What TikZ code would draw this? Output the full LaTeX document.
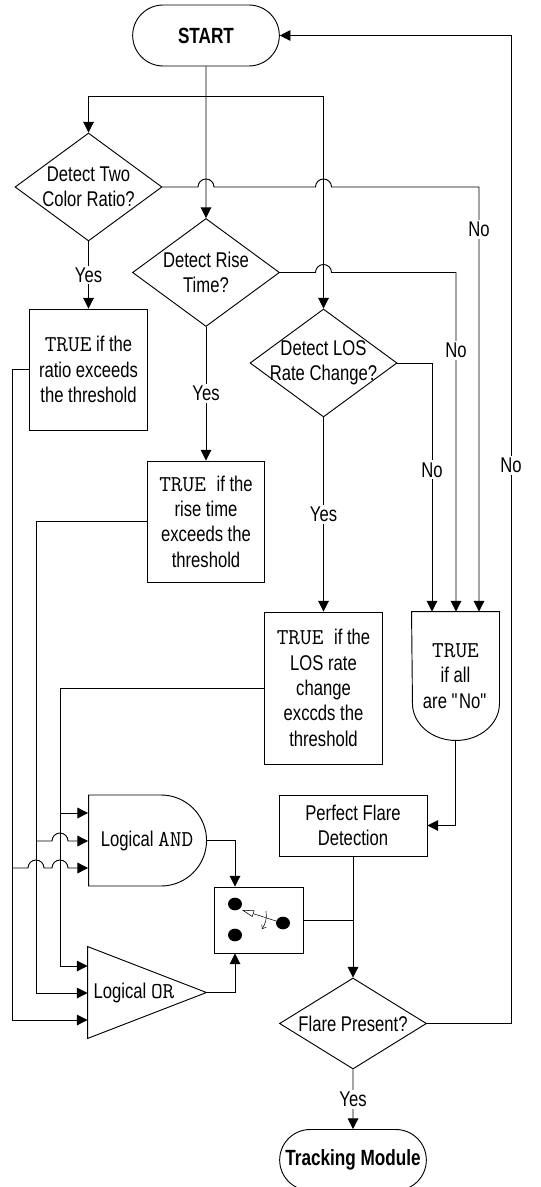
\documentclass[tikz,border=0pt]{standalone}
\usepackage{fontspec}
\setmainfont{Liberation Sans}[FakeStretch=0.78]
\usetikzlibrary{arrows.meta,shapes.geometric,shapes.misc}
\newcommand{\mono}[1]{{\fontsize{17}{19}\selectfont\ttfamily #1}}
\newcommand{\dq}{\XeTeXglyph\XeTeXcharglyph"22\relax}

\begin{document}
\begin{tikzpicture}[x=0.75pt,y=-0.75pt,line width=0.7pt,
  every node/.style={font=\fontsize{16}{19}\selectfont,inner sep=0pt},
  term/.style={draw,rounded rectangle,minimum width=110pt,minimum height=45.75pt,
               font=\fontsize{16.5}{19}\selectfont\bfseries},
  decide/.style={draw,diamond,minimum width=110.25pt,minimum height=81pt},
  dtext/.style={align=center},
  tbox/.style={draw,minimum width=88pt,align=center},
  lab/.style={fill=white,inner sep=1.5pt},
  ar/.style={-{Triangle[length=8pt,width=8pt]}}
]
\useasboundingbox (0,0) rectangle (541,1187);
% start and the three detectors
\node[term] (start) at (206,35.5) {START};
\node[decide,label={[dtext]center:Detect Two\\Color Ratio?}] (dtwo) at (88.5,187) {};
\node[decide,label={[dtext]center:Detect Rise\\Time?}] (drise) at (206,272.5) {};
\node[decide,label={[dtext]center:Detect LOS\\Rate Change?}] (dlos) at (323.5,363) {};
\draw[ar] (start) -- (drise);
\draw[ar] (start.south |- 0,96) -| (dtwo.north);
\draw[ar] (start.south |- 0,96) -| (dlos.north);
% threshold tests
\node[tbox,minimum height=90.75pt] (tr1) at (88.5,369.5) {\mono{TRUE} if the\\ratio exceeds\\the threshold};
\node[tbox,minimum height=90.75pt] (tr2) at (206,521.5) {\mono{TRUE}\hspace{8pt}if the\\rise time\\exceeds the\\threshold};
\node[tbox,minimum height=114pt] (tr3) at (323.5,688) {\mono{TRUE}\hspace{8pt}if the\\LOS rate\\change\\exccds the\\threshold};
\draw[ar] (dtwo) -- node[lab]{Yes} (tr1);
\draw[ar] (drise) -- node[lab]{Yes} (tr2);
\draw[ar] (dlos) -- node[lab]{Yes} (tr3);
% all "No" branch
\node[minimum width=65.25pt,minimum height=96pt,align=center] (allno) at (455.5,676) {\mono{TRUE}\\if all\\are \dq No\dq};
\draw (allno.north west) -- (allno.north east) -- ([yshift=27.75pt]allno.south east)
  arc[start angle=0,end angle=-180,x radius=32.625pt,y radius=27.75pt] -- cycle;
\draw[ar] (dtwo.east) -- (198,187) arc[start angle=180,end angle=0,radius=6pt]
  -- (315.5,187) arc[start angle=180,end angle=0,radius=6pt]
  -- (479,187) -- node[lab,pos=0.1]{No} (allno.north -| 479,0);
\draw[ar] (drise.east) -- (315.5,272.5) arc[start angle=180,end angle=0,radius=6pt]
  -- (456,272.5) -- node[lab,pos=0.23]{No} (allno.north -| 456,0);
\draw[ar] (dlos.east) -- (432,363) -- node[lab,pos=0.43]{No} (allno.north -| 432,0);
\node[draw,minimum width=111pt,minimum height=45.75pt,align=center] (pfd) at (353,825.5) {Perfect Flare\\Detection};
\draw[ar] (allno.south) |- (pfd.east);
% logic gates
\node[draw,rounded rectangle,rounded rectangle left arc=none,minimum width=88.5pt,
      minimum height=68.25pt] (andg) at (147,840.5) {Logical \mono{AND}};
\node[minimum width=88.5pt,minimum height=68.25pt] (lor) at (147,992.5) {\makebox[80pt][l]{Logical \mono{OR}}};
\draw (lor.north west) -- (lor.east) -- (lor.south west) -- cycle;
\draw[ar] (tr1.west) -| (12,1020) -- (lor.west |- 0,1020);
\draw[ar] (tr2.west) -| (36,993) -- (lor.west |- 0,993);
\draw[ar] (tr3.west) -| (60,966) -- (lor.west |- 0,966);
\draw[ar] (60,813) -- (andg.west |- 0,813);
\draw[ar] (36,841) -- (52,841) arc[start angle=180,end angle=0,radius=6pt] -- (andg.west |- 0,841);
\draw[ar] (12,868) -- (28,868) arc[start angle=180,end angle=0,radius=6pt]
  -- (52,868) arc[start angle=180,end angle=0,radius=6pt] -- (andg.west |- 0,868);
% selector switch
\node[draw,minimum width=66.75pt,minimum height=49.5pt] (sw) at (258.5,920) {};
\fill (235,904) ellipse [x radius=5.25pt,y radius=4.75pt];
\fill (235,935) ellipse [x radius=5.25pt,y radius=4.75pt];
\fill (283,923) ellipse [x radius=5.25pt,y radius=4.75pt];
\draw[line width=0.4pt,-{Triangle[open,length=9pt,width=5pt]}] (276,921) -- (242,910);
\draw[line width=0.4pt,-{Straight Barb[length=2.5pt,width=4pt]}] (266,911) to[bend left=20] (262,929);
\draw[ar] (andg.east) -| (sw.north -| 235,0);
\draw[ar] (lor.east) -| (sw.south -| 235,0);
% final decision
\node[decide,minimum height=68.25pt,label={[dtext]center:Flare Present?}] (fp) at (353,1023.5) {};
\node[term] (track) at (353,1160) {Tracking Module};
\draw[ar] (pfd) -- (fp);
\draw (sw.east) -- (pfd.south |- sw.east);
\draw[ar] (fp) -- node[lab]{Yes} (track);
\draw[ar] (fp.east) -- (511,1023.5) -- node[lab,pos=0.565]{No} (511,35.5) -- (start.east);
\end{tikzpicture}
\end{document}
